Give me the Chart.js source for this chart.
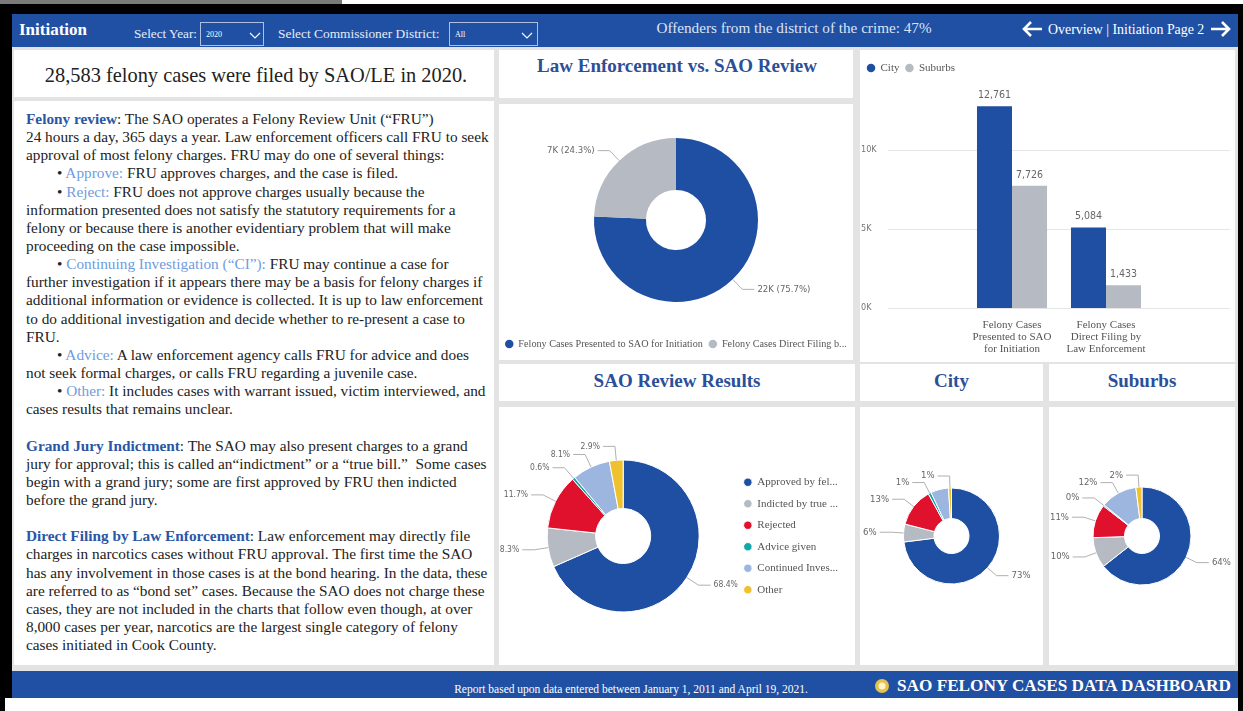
<!DOCTYPE html>
<html><head><meta charset="utf-8">
<script src="https://cdn.jsdelivr.net/npm/chart.js@4.4.1/dist/chart.umd.min.js"></script>
<style>
html,body{margin:0;padding:0;}
body{width:1243px;height:711px;position:relative;overflow:hidden;background:#fff;font-family:"Liberation Serif","Times New Roman",serif;}
.abs{position:absolute;}
.panel{position:absolute;background:#fff;}
.ttl{position:absolute;color:#2b4f98;font-weight:bold;font-size:19px;text-align:center;white-space:nowrap;}
.hd{position:absolute;color:#fff;white-space:nowrap;}
.h{color:#2a56a6;font-weight:bold;}
.lb{color:#6f9be0;}
.ind{padding-left:31px;}
canvas{position:absolute;}
</style></head><body>
<!-- frame -->
<div class="abs" style="left:0;top:0;width:342px;height:4px;background:#7a7a7a"></div>
<div class="abs" style="left:0;top:4px;width:1243px;height:10px;background:#000"></div>
<div class="abs" style="left:0;top:4px;width:12px;height:694px;background:#000"></div>
<div class="abs" style="left:0;top:697px;width:5px;height:14px;background:#000"></div>
<div class="abs" style="left:1238px;top:4px;width:5px;height:707px;background:#000"></div>
<!-- header -->
<div class="abs" style="left:12px;top:14px;width:1226px;height:33px;background:#2050a3"></div>
<div class="hd" style="left:19px;top:19px;line-height:22px;font-size:17px;font-weight:bold">Initiation</div>
<div class="hd" style="left:134px;top:26px;line-height:16px;font-size:13.2px;color:#e6ecf7">Select Year:</div>
<div class="abs" style="left:200px;top:22px;width:62px;height:22px;border:1px solid #aebfe0"></div>
<div class="hd" style="left:206px;top:30px;line-height:10px;font-size:8px">2020</div>
<svg class="abs" style="left:249px;top:32px" width="12" height="8"><path d="M1 1L6 6L11 1" stroke="#fff" stroke-width="1.1" fill="none"/></svg>
<div class="hd" style="left:278px;top:26px;line-height:16px;font-size:13.4px;color:#e6ecf7">Select Commissioner District:</div>
<div class="abs" style="left:449px;top:22px;width:87px;height:22px;border:1px solid #aebfe0"></div>
<div class="hd" style="left:455px;top:30px;line-height:10px;font-size:8px">All</div>
<svg class="abs" style="left:521px;top:32px" width="12" height="8"><path d="M1 1L6 6L11 1" stroke="#fff" stroke-width="1.1" fill="none"/></svg>
<div class="hd" style="left:594px;width:400px;text-align:center;top:18px;line-height:20px;font-size:15.2px;color:#dce4f3">Offenders from the district of the crime: 47%</div>
<svg class="abs" style="left:1020px;top:19px" width="24" height="20"><path d="M22 10H4M11 3L4 10L11 17" stroke="#fff" stroke-width="2.6" fill="none"/></svg>
<div class="hd" style="left:1048px;top:21px;line-height:18px;font-size:13.9px">Overview | Initiation Page 2</div>
<svg class="abs" style="left:1209px;top:19px" width="24" height="20"><path d="M2 10H20M13 3L20 10L13 17" stroke="#fff" stroke-width="2.6" fill="none"/></svg>
<!-- content background -->
<div class="abs" style="left:12px;top:47px;width:1226px;height:624px;background:#e3e3e3"></div>
<!-- footer -->
<div class="abs" style="left:12px;top:671px;width:1226px;height:27px;background:#2050a3"></div>
<div class="hd" style="left:431px;width:400px;text-align:center;top:682px;line-height:14px;font-size:11.5px">Report based upon data entered between January 1, 2011 and April 19, 2021.</div>
<svg class="abs" style="left:874px;top:678px" width="16" height="16"><circle cx="8" cy="8" r="7" fill="#e5c24a"/><circle cx="8" cy="8" r="3.5" fill="#fff4c8"/></svg>
<div class="hd" style="left:897px;top:675px;line-height:22px;font-size:17.2px;font-weight:bold">SAO FELONY CASES DATA DASHBOARD</div>

<!-- panels -->
<div class="panel" style="left:14px;top:50px;width:480px;height:47px"></div>
<div class="abs" style="left:14px;width:484px;text-align:center;top:62px;line-height:26px;font-size:20.4px;color:#222;white-space:nowrap">28,583 felony cases were filed by SAO/LE in 2020.</div>
<div class="panel" style="left:14px;top:101px;width:480px;height:564px"></div>
<div class="abs" style="left:26px;top:110px;font-size:15.3px;line-height:18.14px;color:#222;white-space:nowrap">
<span class="h">Felony review</span>: The SAO operates a Felony Review Unit (“FRU”)<br>
24 hours a day, 365 days a year. Law enforcement officers call FRU to seek<br>
approval of most felony charges. FRU may do one of several things:<br>
<span class="ind">• <span class="lb">Approve:</span> FRU approves charges, and the case is filed.</span><br>
<span class="ind">• <span class="lb">Reject:</span> FRU does not approve charges usually because the</span><br>
information presented does not satisfy the statutory requirements for a<br>
felony or because there is another evidentiary problem that will make<br>
proceeding on the case impossible.<br>
<span class="ind">• <span class="lb">Continuing Investigation (“CI”):</span> FRU may continue a case for</span><br>
further investigation if it appears there may be a basis for felony charges if<br>
additional information or evidence is collected. It is up to law enforcement<br>
to do additional investigation and decide whether to re-present a case to<br>
FRU.<br>
<span class="ind">• <span class="lb">Advice:</span> A law enforcement agency calls FRU for advice and does</span><br>
not seek formal charges, or calls FRU regarding a juvenile case.<br>
<span class="ind">• <span class="lb">Other:</span> It includes cases with warrant issued, victim interviewed, and</span><br>
cases results that remains unclear.<br>
<br>
<span class="h">Grand Jury Indictment</span>: The SAO may also present charges to a grand<br>
jury for approval; this is called an“indictment” or a “true bill.”&nbsp; Some cases<br>
begin with a grand jury; some are first approved by FRU then indicted<br>
before the grand jury.<br>
<br>
<span class="h">Direct Filing by Law Enforcement</span>: Law enforcement may directly file<br>
charges in narcotics cases without FRU approval. The first time the SAO<br>
has any involvement in those cases is at the bond hearing. In the data, these<br>
are referred to as “bond set” cases. Because the SAO does not charge these<br>
cases, they are not included in the charts that follow even though, at over<br>
8,000 cases per year, narcotics are the largest single category of felony<br>
cases initiated in Cook County.
</div>

<div class="panel" style="left:499px;top:50px;width:354px;height:48px"></div>
<div class="ttl" style="left:499px;width:356px;top:55px;line-height:22px">Law Enforcement vs. SAO Review</div>
<div class="panel" style="left:499px;top:104px;width:354px;height:256px"></div>
<div class="panel" style="left:860px;top:50px;width:375px;height:312px"></div>
<div class="panel" style="left:499px;top:364px;width:356px;height:37px"></div>
<div class="ttl" style="left:499px;width:356px;top:370px;line-height:22px">SAO Review Results</div>
<div class="panel" style="left:499px;top:407px;width:356px;height:258px"></div>
<div class="panel" style="left:860px;top:364px;width:183px;height:37px"></div>
<div class="ttl" style="left:860px;width:183px;top:370px;line-height:22px">City</div>
<div class="panel" style="left:1049px;top:364px;width:186px;height:37px"></div>
<div class="ttl" style="left:1049px;width:186px;top:370px;line-height:22px">Suburbs</div>
<div class="panel" style="left:860px;top:407px;width:183px;height:258px"></div>
<div class="panel" style="left:1049px;top:407px;width:186px;height:258px"></div>

<canvas id="c1" width="354" height="256" style="left:499px;top:104px"></canvas>
<canvas id="c2" width="375" height="312" style="left:860px;top:50px"></canvas>
<canvas id="c3" width="356" height="258" style="left:499px;top:407px"></canvas>
<canvas id="c4" width="183" height="258" style="left:860px;top:407px"></canvas>
<canvas id="c5" width="186" height="258" style="left:1049px;top:407px"></canvas>

<script>
// ---------- DATA ----------
const initLabels = ['Felony Cases Presented to SAO for Initiation', 'Felony Cases Direct Filing b...'];
const initValues = [21637, 6946];

const barCategories = [['Felony Cases', 'Presented to SAO', 'for Initiation'], ['Felony Cases', 'Direct Filing by', 'Law Enforcement']];
const barSeriesNames = ['City', 'Suburbs'];
const cityCounts = [12761, 5084];
const suburbCounts = [7726, 1433];
const yTickValues = [0, 5000, 10000];

const reviewLabels = ['Approved by fel...', 'Indicted by true ...', 'Rejected', 'Advice given', 'Continued Inves...', 'Other'];
const reviewAll = [68.4, 8.3, 11.7, 0.6, 8.1, 2.9];
const reviewCity = [73, 6, 13, 1, 6, 1];
const reviewSuburbs = [64, 10, 11, 0.4, 12, 2];

// ---------- STYLE ----------
const BLUE = '#1f4fa2', GRAY = '#b5bac3';
const reviewColors = ['#1f4fa2', '#b5bac3', '#e0112c', '#12a7a8', '#9db6e0', '#f0c12e'];
const SERIF = '"Liberation Serif", "Times New Roman", serif';
const DIN = '"DejaVu Sans Condensed", "DejaVu Sans", sans-serif';
Chart.defaults.font.family = SERIF;
Chart.defaults.animation = false;

const leaderLabels = {
  id: 'leaderLabels',
  afterDatasetsDraw(chart, args, o) {
    if (!o || !o.enabled) return;
    const ctx = chart.ctx;
    const meta = chart.getDatasetMeta(0);
    const data = chart.data.datasets[0].data;
    const total = data.reduce((a, b) => a + b, 0);
    const hide = o.hide || [];
    ctx.save();
    ctx.font = o.font;
    ctx.textBaseline = 'middle';
    ctx.lineWidth = 1;
    meta.data.forEach((arc, i) => {
      if (hide.indexOf(i) >= 0) return;
      const p = arc.getProps(['x', 'y', 'startAngle', 'endAngle', 'outerRadius'], true);
      const mid = (p.startAngle + p.endAngle) / 2;
      const c = Math.cos(mid), s = Math.sin(mid);
      const x0 = p.x + c * p.outerRadius, y0 = p.y + s * p.outerRadius;
      const x1 = p.x + c * (p.outerRadius + o.elbow), y1 = p.y + s * (p.outerRadius + o.elbow);
      const right = c >= 0;
      const x2 = x1 + (right ? o.tail : -o.tail);
      ctx.strokeStyle = '#b0b0b0';
      ctx.beginPath(); ctx.moveTo(x0, y0); ctx.lineTo(x1, y1); ctx.lineTo(x2, y1); ctx.stroke();
      const pct = data[i] / total * 100;
      let txt;
      if (o.mode === 'kpct') txt = Math.round(data[i] / 1000) + 'K (' + pct.toFixed(1) + '%)';
      else if (o.mode === 'pct1') txt = pct.toFixed(1) + '%';
      else txt = pct.toFixed(0) + '%';
      ctx.fillStyle = '#666';
      ctx.textAlign = right ? 'left' : 'right';
      ctx.fillText(txt, x2 + (right ? 3 : -3), y1);
    });
    ctx.restore();
  }
};

const extGrid = {
  id: 'extGrid',
  beforeDatasetsDraw(chart, args, o) {
    const {ctx, scales: {x, y}} = chart;
    ctx.save();
    ctx.strokeStyle = '#e6e6e6';
    ctx.lineWidth = 1;
    y.ticks.forEach(t => {
      const py = Math.round(y.getPixelForValue(t.value)) + 0.5;
      ctx.beginPath(); ctx.moveTo(x.left - o.extLeft, py); ctx.lineTo(x.right + o.extRight, py); ctx.stroke();
    });
    ctx.restore();
  }
};

const barValues = {
  id: 'barValues',
  afterDatasetsDraw(chart, args, o) {
    const ctx = chart.ctx;
    ctx.save();
    ctx.font = o.font; ctx.fillStyle = '#666'; ctx.textAlign = 'center'; ctx.textBaseline = 'middle';
    chart.data.datasets.forEach((ds, di) => {
      chart.getDatasetMeta(di).data.forEach((bar, i) => {
        ctx.fillText(ds.data[i].toLocaleString('en-US'), bar.x, bar.y - 11);
      });
    });
    ctx.restore();
  }
};

const legendLabels = (size, pad) => ({
  usePointStyle: true, pointStyle: 'circle', boxWidth: 8, boxHeight: 6,
  padding: pad, color: '#555', font: {family: SERIF, size: size}
});

// Top donut
new Chart(document.getElementById('c1'), {
  type: 'doughnut',
  data: {labels: initLabels, datasets: [{data: initValues, backgroundColor: [BLUE, GRAY], borderWidth: 0}]},
  options: {
    responsive: false, radius: 82, cutout: '36.6%',
    layout: {padding: {top: 3.1, bottom: 0.9, left: 0, right: 0}},
    plugins: {
      legend: {position: 'bottom', labels: legendLabels(10.2, 6)},
      tooltip: {enabled: false},
      leaderLabels: {enabled: true, elbow: 14, tail: 12, mode: 'kpct', font: '9.5px ' + DIN}
    }
  },
  plugins: [leaderLabels]
});

// Bar chart
new Chart(document.getElementById('c2'), {
  type: 'bar',
  data: {
    labels: barCategories,
    datasets: [
      {label: barSeriesNames[0], data: cityCounts, backgroundColor: BLUE, borderWidth: 0},
      {label: barSeriesNames[1], data: suburbCounts, backgroundColor: GRAY, borderWidth: 0}
    ]
  },
  options: {
    responsive: false,
    layout: {padding: {left: 1, right: 82, top: 6.5, bottom: 0}},
    datasets: {bar: {categoryPercentage: 0.745, barPercentage: 1}},
    scales: {
      x: {
        grid: {display: false, drawTicks: false}, border: {display: false},
        ticks: {font: {family: SERIF, size: 11, lineHeight: 1.1}, color: '#555', padding: 11, maxRotation: 0, autoSkip: false},
        afterFit(s) { s.height = 54; }
      },
      y: {
        min: 0, max: 14200,
        afterBuildTicks(s) { s.ticks = yTickValues.map(v => ({value: v})); },
        ticks: {callback: v => (v / 1000) + 'K', crossAlign: 'far', font: {family: DIN, size: 9}, color: '#777'},
        grid: {display: false, drawTicks: false}, border: {display: false},
        afterFit(s) { s.width = 104; }
      }
    },
    plugins: {
      legend: {position: 'top', align: 'start', labels: legendLabels(11, 6)},
      tooltip: {enabled: false},
      extGrid: {extLeft: 77, extRight: 77},
      barValues: {font: '10.5px ' + DIN}
    }
  },
  plugins: [extGrid, barValues]
});

// SAO review donut
new Chart(document.getElementById('c3'), {
  type: 'doughnut',
  data: {labels: reviewLabels, datasets: [{data: reviewAll, backgroundColor: reviewColors, borderWidth: 1, borderColor: '#fff'}]},
  options: {
    responsive: false, radius: 76, cutout: '36.2%',
    layout: {padding: {left: 14, right: 7, top: 0, bottom: 0}},
    plugins: {
      legend: {position: 'right', labels: legendLabels(11, 10.5)},
      tooltip: {enabled: false},
      leaderLabels: {enabled: true, elbow: 14, tail: 12, mode: 'pct1', font: '8.5px ' + DIN}
    }
  },
  plugins: [leaderLabels]
});

// City donut
new Chart(document.getElementById('c4'), {
  type: 'doughnut',
  data: {labels: reviewLabels, datasets: [{data: reviewCity, backgroundColor: reviewColors, borderWidth: 1, borderColor: '#fff'}]},
  options: {
    responsive: false, radius: 48, cutout: '36.5%',
    plugins: {
      legend: {display: false}, tooltip: {enabled: false},
      leaderLabels: {enabled: true, elbow: 12, tail: 12, mode: 'pct0', hide: [4], font: '9.5px ' + DIN}
    }
  },
  plugins: [leaderLabels]
});

// Suburbs donut
new Chart(document.getElementById('c5'), {
  type: 'doughnut',
  data: {labels: reviewLabels, datasets: [{data: reviewSuburbs, backgroundColor: reviewColors, borderWidth: 1, borderColor: '#fff'}]},
  options: {
    responsive: false, radius: 49, cutout: '35.7%',
    plugins: {
      legend: {display: false}, tooltip: {enabled: false},
      leaderLabels: {enabled: true, elbow: 12, tail: 12, mode: 'pct0', font: '9.5px ' + DIN}
    }
  },
  plugins: [leaderLabels]
});
</script>
</body></html>
